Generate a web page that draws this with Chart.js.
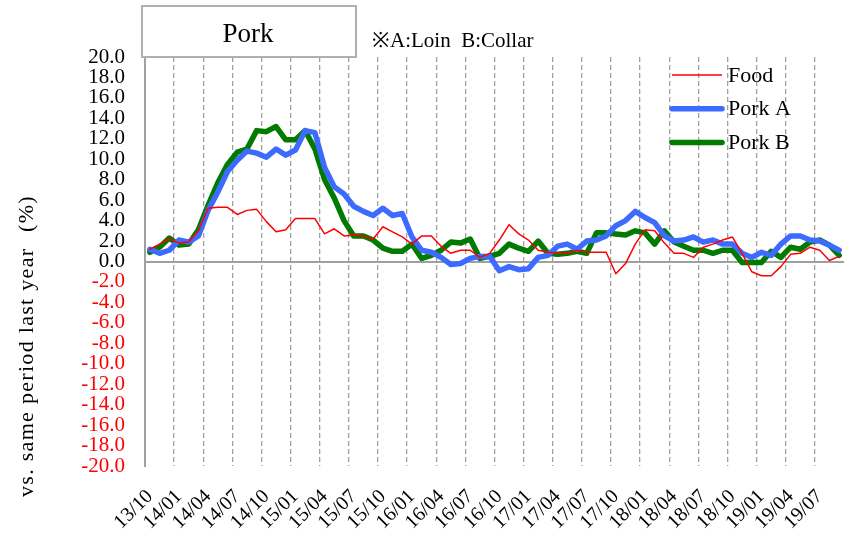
<!DOCTYPE html>
<html>
<head>
<meta charset="utf-8">
<script src="https://cdn.jsdelivr.net/npm/chart.js@4/dist/chart.umd.min.js"></script>
<style>
  body { margin: 0; background: #fff; }
  canvas { display: block; }
</style>
</head>
<body>
<canvas id="porkChart" width="844" height="537"></canvas>
<script>
// monthly, 2013/10 .. 2019/09
const months = [
	"13/10","13/11","13/12",
	"14/01","14/02","14/03","14/04","14/05","14/06","14/07","14/08","14/09","14/10","14/11","14/12",
	"15/01","15/02","15/03","15/04","15/05","15/06","15/07","15/08","15/09","15/10","15/11","15/12",
	"16/01","16/02","16/03","16/04","16/05","16/06","16/07","16/08","16/09","16/10","16/11","16/12",
	"17/01","17/02","17/03","17/04","17/05","17/06","17/07","17/08","17/09","17/10","17/11","17/12",
	"18/01","18/02","18/03","18/04","18/05","18/06","18/07","18/08","18/09","18/10","18/11","18/12",
	"19/01","19/02","19/03","19/04","19/05","19/06","19/07","19/08","19/09",
];

const food = [
	1.2, 1.7, 2.2, 1.8, 1.9, 3.0, 5.2, 5.3, 5.3, 4.6, 5.0, 5.1,
	3.9, 2.9, 3.1, 4.2, 4.2, 4.2, 2.7, 3.2, 2.5, 2.6, 2.5, 2.2,
	3.4, 2.9, 2.4, 1.7, 2.5, 2.5, 1.5, 0.8, 1.1, 1.1, 0.4, 0.8,
	2.1, 3.6, 2.7, 2.1, 1.1, 0.9, 0.8, 0.8, 1.1, 0.9, 0.9, 0.9,
	-1.2, -0.2, 1.7, 3.1, 3.0, 1.8, 0.8, 0.8, 0.4, 1.4, 1.7, 2.1,
	2.4, 0.8, -1.0, -1.4, -1.4, -0.5, 0.7, 0.8, 1.4, 1.1, 0.1, 0.5,
];

const porkA = [
	1.2, 0.8, 1.1, 2.1, 1.9, 2.5, 5.0, 6.8, 8.8, 9.9, 10.8, 10.6,
	10.2, 11.0, 10.4, 10.9, 12.8, 12.6, 9.2, 7.3, 6.6, 5.4, 4.9, 4.5,
	5.2, 4.5, 4.7, 2.4, 1.1, 0.9, 0.4, -0.3, -0.2, 0.3, 0.5, 0.5,
	-0.9, -0.5, -0.8, -0.7, 0.4, 0.6, 1.5, 1.7, 1.2, 2.0, 2.1, 2.5,
	3.5, 4.0, 4.9, 4.3, 3.8, 2.5, 2.0, 2.1, 2.4, 1.9, 2.1, 1.7,
	1.7, 0.8, 0.4, 0.9, 0.6, 1.7, 2.5, 2.5, 2.1, 2.0, 1.6, 1.1,
];

const porkB = [
	0.9, 1.4, 2.3, 1.6, 1.7, 3.1, 5.5, 7.7, 9.5, 10.7, 11.0, 12.8,
	12.7, 13.2, 11.9, 11.9, 12.8, 11.0, 8.0, 6.2, 4.0, 2.5, 2.5, 2.1,
	1.3, 1.0, 1.0, 1.7, 0.3, 0.6, 1.1, 1.9, 1.8, 2.2, 0.3, 0.5,
	0.8, 1.7, 1.3, 1.0, 2.0, 0.8, 0.7, 0.8, 1.0, 0.8, 2.8, 2.8,
	2.7, 2.6, 3.0, 2.8, 1.7, 3.0, 1.9, 1.5, 1.1, 1.1, 0.8, 1.1,
	1.1, -0.1, -0.1, -0.1, 1.0, 0.4, 1.4, 1.2, 1.9, 2.1, 1.6, 0.6,
];

const seriesNames = ["Food", "Pork A", "Pork B"];
const titleText = "Pork";
const noteText = "※A:Loin  B:Collar";
const yTitle = "vs. same period last year";
const yUnit = "(%)";

const SERIF = "'Liberation Serif', 'Times New Roman', serif";
const GRID_GRAY = "#a0a0a0";

// title box, note, legend and y title drawn on top of the chart
const overlay = {
	id: "overlay",
	afterDraw(chart) {
		const ctx = chart.ctx;
		ctx.save();

		ctx.fillStyle = "#fff";
		ctx.fillRect(142, 6, 214, 51);
		ctx.strokeStyle = "#b0b0b0";
		ctx.lineWidth = 2;
		ctx.strokeRect(142, 6, 214, 51);

		ctx.fillStyle = "#000";
		ctx.font = "27px " + SERIF;
		ctx.textAlign = "center";
		ctx.textBaseline = "middle";
		ctx.fillText(titleText, 248, 35);

		ctx.font = "21px " + SERIF;
		ctx.textAlign = "left";
		ctx.fillText(noteText, 372, 41);

		// legend
		ctx.font = "22px " + SERIF;
		chart.data.datasets.forEach((ds, i) => {
			const y = 75 + i * 33.7;
			ctx.strokeStyle = ds.borderColor;
			ctx.lineWidth = ds.borderWidth;
			ctx.lineCap = i === 0 ? "butt" : "round";
			ctx.beginPath();
			ctx.moveTo(672, y);
			ctx.lineTo(722, y);
			ctx.stroke();
			ctx.fillStyle = "#000";
			ctx.fillText(ds.label, 728, y + 1);
		});

		// y axis title
		ctx.translate(27, 497);
		ctx.rotate(-Math.PI / 2);
		ctx.textAlign = "left";
		ctx.font = "22px " + SERIF;
		ctx.letterSpacing = "1.3px";
		ctx.fillText(yTitle, 0, 0);
		ctx.fillText(yUnit, 265, 0);

		ctx.restore();
	},
};

const renderPorkChart = () => {
	const data = {
		labels: months,
		datasets: [
			{ label: seriesNames[0], data: food, borderColor: "#ff0000", borderWidth: 1.5 },
			{ label: seriesNames[1], data: porkA, borderColor: "#3d6bff", borderWidth: 5.5 },
			{ label: seriesNames[2], data: porkB, borderColor: "#007a00", borderWidth: 5.5 },
		],
	};
	const options = {
		responsive: false,
		animation: false,
		devicePixelRatio: 1,
		layout: { padding: { top: 57, right: 0, left: 0, bottom: 0 } },
		elements: {
			point: { radius: 0 },
			line: { tension: 0, borderJoinStyle: "round", borderCapStyle: "round" },
		},
		plugins: {
			legend: { display: false },
			tooltip: { enabled: false },
		},
		scales: {
			x: {
				offset: true,
				grid: {
					offset: true,
					drawTicks: false,
					lineWidth: 1.3,
					color: (c) => (c.index % 3 === 0 && c.index > 0 && c.index < months.length ? GRID_GRAY : "rgba(0,0,0,0)"),
				},
				border: { display: false, dash: [5, 3] },
				ticks: {
					autoSkip: false,
					minRotation: 45,
					maxRotation: 45,
					padding: 19,
					color: "#000",
					font: { family: SERIF, size: 20 },
					callback: function (val, i) {
						return i % 3 === 0 ? this.getLabelForValue(val) : "";
					},
				},
				afterFit: (s) => {
					s.height = 71;
					s.paddingLeft = 0;
					s.paddingRight = 0;
				},
			},
			y: {
				min: -20,
				max: 20,
				grid: {
					drawTicks: false,
					lineWidth: 2,
					color: (c) => (c.tick && c.tick.value === 0 ? GRID_GRAY : "rgba(0,0,0,0)"),
				},
				border: { display: true, color: GRID_GRAY, width: 2 },
				ticks: {
					autoSkip: false,
					stepSize: 2,
					padding: 20,
					font: { family: SERIF, size: 21 },
					color: (c) => (c.tick.value < 0 ? "#ff0000" : "#000000"),
					callback: (v) => v.toFixed(1),
				},
				afterFit: (s) => {
					s.width = 145;
				},
			},
		},
	};

	new Chart("porkChart", { type: "line", data, options, plugins: [overlay] });
};

renderPorkChart();
</script>
</body>
</html>
